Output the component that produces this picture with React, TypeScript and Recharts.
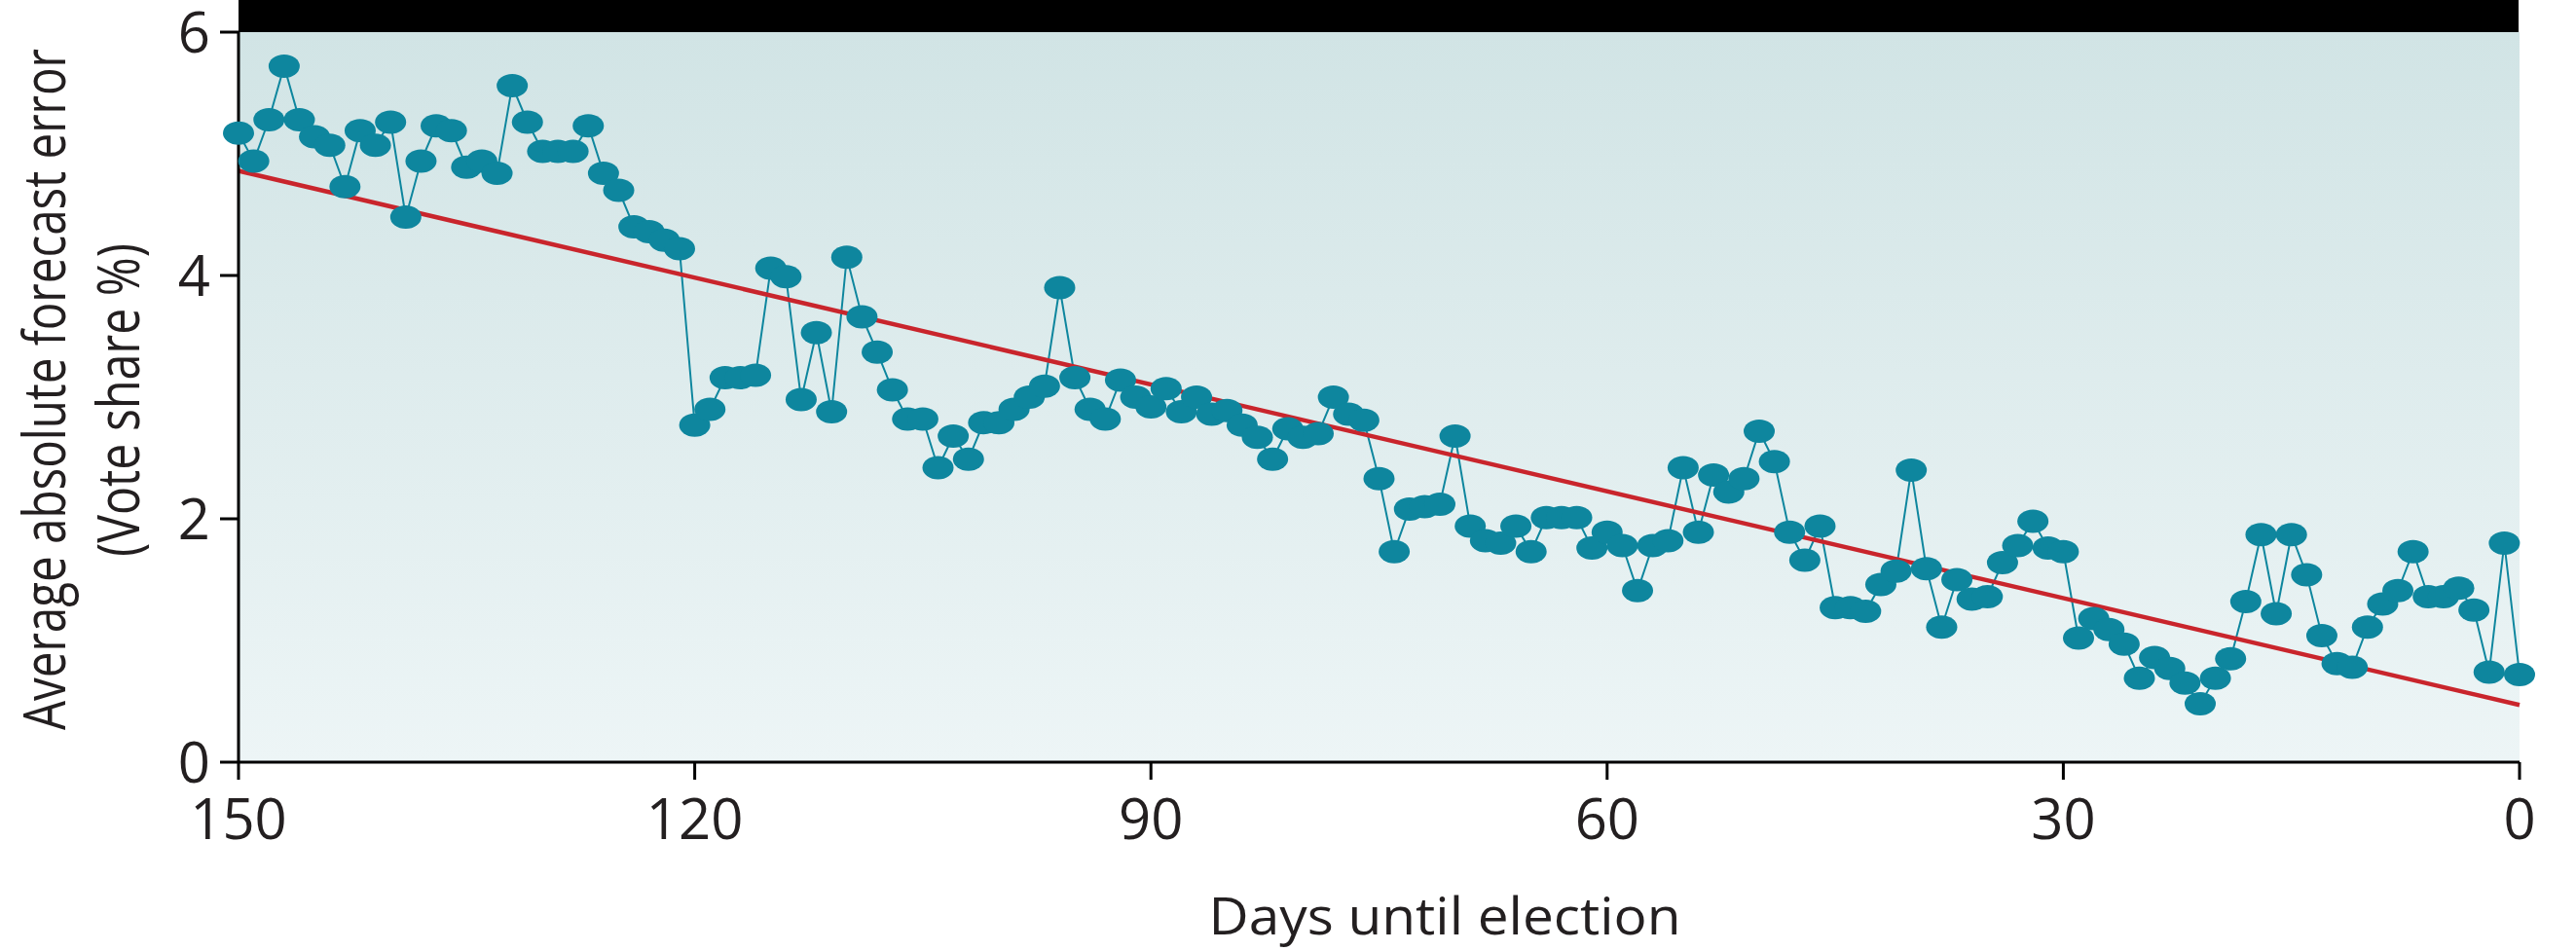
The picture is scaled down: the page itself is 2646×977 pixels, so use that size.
import { ComposedChart, Line, XAxis, YAxis, ReferenceArea } from "recharts";

// average absolute forecast error (vote share %), one value per day, day 150 -> day 0
const firstDay = 150;
const errors150to121 = [
  5.17, 4.94, 5.28, 5.72, 5.28, 5.14, 5.07, 4.73, 5.19, 5.07,
  5.26, 4.48, 4.94, 5.23, 5.19, 4.89, 4.94, 4.84, 5.56, 5.26,
  5.02, 5.02, 5.02, 5.23, 4.84, 4.7, 4.4, 4.36, 4.29, 4.22,
];
const errors120to91 = [
  2.77, 2.9, 3.16, 3.16, 3.18, 4.06, 3.99, 2.98, 3.53, 2.88,
  4.15, 3.66, 3.37, 3.06, 2.82, 2.82, 2.42, 2.68, 2.49, 2.79,
  2.79, 2.9, 3.0, 3.09, 3.9, 3.16, 2.9, 2.82, 3.14, 3.0,
];
const errors90to61 = [
  2.92, 3.07, 2.88, 3.0, 2.86, 2.89, 2.77, 2.67, 2.49, 2.74,
  2.67, 2.7, 3.0, 2.86, 2.81, 2.33, 1.73, 2.08, 2.1, 2.12,
  2.68, 1.94, 1.82, 1.8, 1.94, 1.73, 2.01, 2.01, 2.01, 1.76,
];
const errors60to31 = [
  1.89, 1.78, 1.41, 1.78, 1.82, 2.42, 1.89, 2.36, 2.22, 2.33,
  2.72, 2.47, 1.89, 1.66, 1.94, 1.27, 1.27, 1.24, 1.46, 1.57,
  2.4, 1.59, 1.11, 1.5, 1.34, 1.36, 1.64, 1.78, 1.98, 1.76,
];
const errors30to0 = [
  1.73, 1.02, 1.18, 1.09, 0.97, 0.69, 0.86, 0.77, 0.65, 0.48,
  0.69, 0.85, 1.32, 1.87, 1.22, 1.87, 1.54, 1.04, 0.81, 0.78,
  1.11, 1.3, 1.41, 1.73, 1.36, 1.36, 1.43, 1.25, 0.74, 1.8, 0.72,
];

// fitted trend
const trendDays = [150, 0];
const trendValues = [4.86, 0.47];

const xTicks = [150, 120, 90, 60, 30, 0];
const yTicks = [0, 2, 4, 6];

const TEAL = "#0e869e";
const RED = "#c9252c";
const INK = "#231f20";
const FONT = "'Open Sans', sans-serif";

const forecastError = [
  ...errors150to121,
  ...errors120to91,
  ...errors90to61,
  ...errors60to31,
  ...errors30to0,
];
const chartData = forecastError.map((v, i) => ({ day: firstDay - i, error: v }));
const trendData = trendDays.map((d, i) => ({ day: d, trend: trendValues[i] }));

function EllipseDot(props: any) {
  const { cx, cy, index } = props;
  if (cx == null || cy == null) return <g key={`e-${index}`} />;
  return <ellipse key={`e-${index}`} cx={cx} cy={cy} rx={16} ry={12} fill={TEAL} />;
}

function YTitle() {
  return (
    <g fill={INK} fontFamily={FONT} fontSize={60}>
      <text
        x={67}
        y={400}
        transform="rotate(-90 67 400)"
        textAnchor="middle"
        textLength={700}
        lengthAdjust="spacingAndGlyphs"
      >
        Average absolute forecast error
      </text>
      <text
        x={143}
        y={411}
        transform="rotate(-90 143 411)"
        textAnchor="middle"
        textLength={322}
        lengthAdjust="spacingAndGlyphs"
      >
        (Vote share %)
      </text>
    </g>
  );
}

function XTitle() {
  return (
    <text
      x={1484}
      y={960}
      textAnchor="middle"
      fill={INK}
      fontFamily={FONT}
      fontSize={53}
      textLength={485}
      lengthAdjust="spacingAndGlyphs"
    >
      Days until election
    </text>
  );
}

export default function App() {
  return (
    <div style={{ position: "relative", width: 2646, height: 977, background: "#fff" }}>
      <style>{"body{margin:0}"}</style>
      <div
        style={{
          position: "absolute",
          left: 245,
          top: 0,
          width: 2342,
          height: 33,
          background: "#000",
        }}
      />
      <ComposedChart
        width={2646}
        height={977}
        margin={{ top: 33, right: 58, bottom: 0, left: 0 }}
      >
        <defs>
          <linearGradient id="plotBg" x1="0" y1="0" x2="0" y2="1">
            <stop offset="0%" stopColor="#d1e4e5" />
            <stop offset="100%" stopColor="#edf5f6" />
          </linearGradient>
        </defs>
        <XAxis
          dataKey="day"
          type="number"
          domain={[0, 150]}
          reversed
          ticks={xTicks}
          height={194}
          tickSize={18}
          tickMargin={20}
          axisLine={{ stroke: "#000", strokeWidth: 3 }}
          tickLine={{ stroke: "#000", strokeWidth: 3 }}
          tick={{ fill: INK, fontSize: 58, fontFamily: FONT }}
          label={<XTitle />}
        />
        <YAxis
          type="number"
          domain={[0, 6]}
          ticks={yTicks}
          width={245}
          tickSize={19}
          tickMargin={10}
          axisLine={{ stroke: "#000", strokeWidth: 3 }}
          tickLine={{ stroke: "#000", strokeWidth: 3 }}
          tick={{ fill: INK, fontSize: 58, fontFamily: FONT }}
          label={<YTitle />}
        />
        <ReferenceArea
          x1={150}
          x2={0}
          y1={0}
          y2={6}
          fill="url(#plotBg)"
          fillOpacity={1}
          stroke="none"
          ifOverflow="visible"
        />
        <Line
          data={chartData}
          dataKey="error"
          type="linear"
          stroke={TEAL}
          strokeWidth={2}
          dot={EllipseDot}
          activeDot={false}
          isAnimationActive={false}
        />
        <Line
          data={trendData}
          dataKey="trend"
          type="linear"
          stroke={RED}
          strokeWidth={4.5}
          dot={false}
          activeDot={false}
          isAnimationActive={false}
        />
      </ComposedChart>
    </div>
  );
}
